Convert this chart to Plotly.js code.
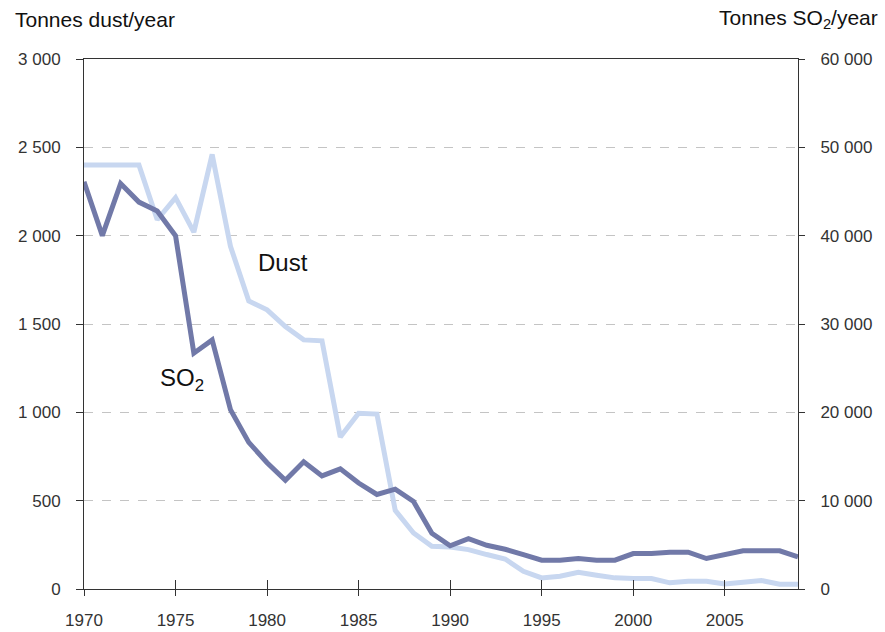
<!DOCTYPE html>
<html>
<head>
<meta charset="utf-8">
<script src="https://cdn.plot.ly/plotly-3.0.1.min.js"></script>
<style>html,body{margin:0;padding:0;background:#fff;}#chart{width:885px;height:632px;}</style>
</head>
<body>
<div id="chart"></div>
<script>
const years = [1970,1971,1972,1973,1974,1975,1976,1977,1978,1979,1980,1981,1982,1983,1984,1985,1986,1987,1988,1989,1990,1991,1992,1993,1994,1995,1996,1997,1998,1999,2000,2001,2002,2003,2004,2005,2006,2007,2008,2009];
const dust = [2400,2400,2400,2400,2090,2215,2020,2460,1940,1630,1580,1485,1410,1405,860,995,990,445,317,242,238,223,195,170,100,63,72,95,78,63,59,59,35,44,44,29,38,48,27,27];
const so2 = [46100,40000,45900,43800,42800,40000,26700,28200,20300,16600,14300,12300,14400,12800,13600,12000,10700,11300,9900,6300,4900,5700,4950,4500,3900,3260,3260,3450,3260,3260,4010,4010,4160,4160,3450,3900,4320,4320,4320,3640];
const xTickVals = [1970,1975,1980,1985,1990,1995,2000,2005];
const leftTickVals = [0,500,1000,1500,2000,2500,3000];
const leftTickText = ["0","500","1 000","1 500","2 000","2 500","3 000"];
const rightTickVals = [0,10000,20000,30000,40000,50000,60000];
const rightTickText = ["0","10 000","20 000","30 000","40 000","50 000","60 000"];

const FONT = "Liberation Sans, Arial, sans-serif";
const traces = [
  {x: years, y: dust, type: 'scatter', mode: 'lines', name: 'Dust', yaxis: 'y',
   line: {color: '#c8d7f0', width: 5}},
  {x: years, y: so2, type: 'scatter', mode: 'lines', name: 'SO2', yaxis: 'y2',
   line: {color: '#7179a8', width: 5}}
];
const layout = {
  width: 885, height: 632,
  margin: {l: 84, r: 87, t: 59, b: 42.5},
  paper_bgcolor: '#fff', plot_bgcolor: '#fff',
  showlegend: false,
  font: {family: FONT, size: 17, color: '#333'},
  xaxis: {range: [1970, 2009], tickvals: xTickVals, ticks: 'outside', ticklen: 6, tickcolor: '#333',
    showline: true, linecolor: '#333', linewidth: 1, mirror: true, showgrid: false, zeroline: false,
    ticklabelstandoff: 10, tickfont: {family: FONT, size: 17, color: '#333'}},
  xaxis2: {range: [1970, 2009], overlaying: 'x', matches: 'x', tickvals: xTickVals, ticks: 'inside', ticklen: 9,
    tickcolor: '#333', showticklabels: false, showgrid: false, zeroline: false, showline: false},
  yaxis: {range: [0, 3000], tickvals: leftTickVals, ticktext: leftTickText, ticks: 'outside', ticklen: 7,
    tickcolor: '#333', showline: true, linecolor: '#333', linewidth: 1, zeroline: false,
    showgrid: true, gridcolor: '#c4c4c4', griddash: 'dash', gridwidth: 1, ticklabelstandoff: 12,
    tickfont: {family: FONT, size: 17, color: '#333'}},
  yaxis2: {range: [0, 60000], overlaying: 'y', side: 'right', tickvals: rightTickVals, ticktext: rightTickText,
    ticks: 'outside', ticklen: 6, tickcolor: '#333', showline: true, linecolor: '#333', linewidth: 1,
    zeroline: false, showgrid: false, ticklabelstandoff: 12,
    tickfont: {family: FONT, size: 17, color: '#333'}},
  annotations: [
    {xref: 'paper', yref: 'paper', x: (13-84)/714, y: (589.5-19)/530.5, xanchor: 'left', yanchor: 'middle',
     text: 'Tonnes dust/year', showarrow: false, font: {family: FONT, size: 21, color: '#111'}},
    {xref: 'paper', yref: 'paper', x: (880-84)/714, y: (589.5-19)/530.5, xanchor: 'right', yanchor: 'middle',
     text: 'Tonnes SO<sub>2</sub>/year', showarrow: false, font: {family: FONT, size: 21, color: '#111'}},
    {xref: 'x', yref: 'y', x: 1979.4, y: 1850, xanchor: 'left', yanchor: 'middle',
     text: 'Dust', showarrow: false, font: {family: FONT, size: 24, color: '#111'}},
    {xref: 'x', yref: 'y', x: 1974.06, y: 1184, xanchor: 'left', yanchor: 'middle',
     text: 'SO<sub>2</sub>', showarrow: false, font: {family: FONT, size: 24, color: '#111'}}
  ]
};
traces.push({x: [1970], y: [null], xaxis: 'x2', yaxis: 'y', type: 'scatter', mode: 'lines', hoverinfo: 'skip', showlegend: false});
Plotly.newPlot('chart', traces, layout, {staticPlot: true});
</script>
</body>
</html>
